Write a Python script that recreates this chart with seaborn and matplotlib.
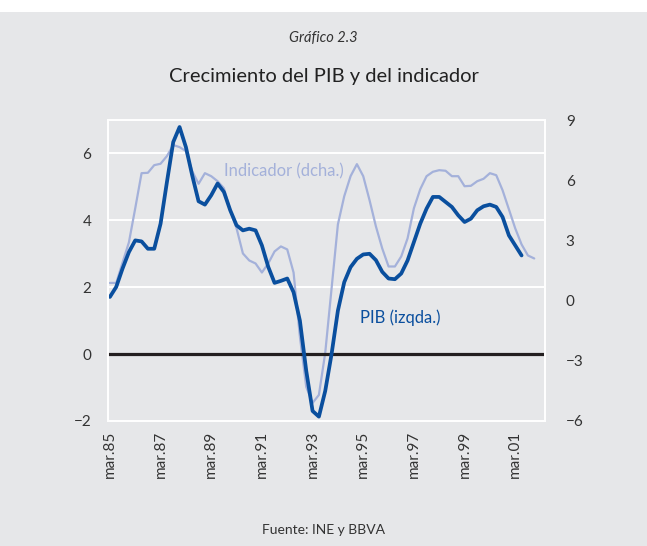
import matplotlib
matplotlib.use('Agg')
import matplotlib.pyplot as plt
import seaborn as sns
import pandas as pd
from matplotlib.patches import Rectangle

# Crecimiento del PIB (izqda.) y del indicador (dcha.), datos trimestrales desde mar.85
pib = [1.71, 2.01, 2.56, 3.05, 3.40, 3.37, 3.15, 3.15, 3.90, 5.14,
       6.34, 6.79, 6.19, 5.34, 4.57, 4.47, 4.75, 5.10, 4.85, 4.30,
       3.85, 3.70, 3.75, 3.70, 3.25, 2.61, 2.13, 2.19, 2.26, 1.85,
       1.00, -0.50, -1.70, -1.87, -1.10, 0.00, 1.30, 2.15, 2.60, 2.85,
       2.98, 3.00, 2.81, 2.46, 2.26, 2.24, 2.41, 2.80, 3.35, 3.90,
       4.35, 4.70, 4.70, 4.55, 4.40, 4.15, 3.95, 4.05, 4.30, 4.42,
       4.47, 4.40, 4.10, 3.55, 3.25, 2.95]
indicador = [0.88, 0.88, 1.90, 2.90, 4.60, 6.35, 6.37, 6.75, 6.82, 7.20,
             7.75, 7.65, 7.45, 6.45, 5.82, 6.35, 6.20, 5.95, 5.60, 4.50,
             3.60, 2.35, 2.00, 1.85, 1.40, 1.85, 2.45, 2.70, 2.55, 1.40,
             -1.80, -4.30, -5.10, -4.70, -2.60, 0.60, 3.80, 5.20, 6.20, 6.80,
             6.20, 5.00, 3.70, 2.60, 1.70, 1.70, 2.20, 3.10, 4.60, 5.55,
             6.20, 6.42, 6.50, 6.47, 6.20, 6.20, 5.70, 5.72, 5.95, 6.07,
             6.35, 6.25, 5.50, 4.55, 3.60, 2.80, 2.25, 2.10]
tick_labels = ['mar.85', 'mar.87', 'mar.89', 'mar.91', 'mar.93',
               'mar.95', 'mar.97', 'mar.99', 'mar.01']

df_pib = pd.DataFrame({'t': range(len(pib)), 'v': pib})
df_ind = pd.DataFrame({'t': range(len(indicador)), 'v': indicador})

bg = '#e6e7e9'
azul = '#0a4f9e'
azul_claro = '#a4b1da'

sns.set_style('white', {'axes.facecolor': bg, 'figure.facecolor': bg})
plt.rcParams['font.family'] = ['Lato', 'DejaVu Sans']

fig = plt.figure(figsize=(6.47, 5.46), dpi=100)
fig.patches.append(Rectangle((0, 1 - 12 / 546), 1, 12 / 546, transform=fig.transFigure,
                             facecolor='white', edgecolor='none', zorder=0))
ax = fig.add_axes([108 / 647, 1 - 421 / 546, 437 / 647, 301 / 546])
ax2 = ax.twinx()

# eje derecho: indicador
sns.lineplot(data=df_ind, x='t', y='v', ax=ax2, color=azul_claro, linewidth=1.6)
# eje izquierdo: PIB, encima del indicador
ax.set_zorder(ax2.get_zorder() + 1)
ax.patch.set_visible(False)
ax2.patch.set_visible(True)
ax2.patch.set_facecolor(bg)
sns.lineplot(data=df_pib, x='t', y='v', ax=ax, color=azul, linewidth=2.7)
ax.axhline(0, color='#231f20', linewidth=2.3, zorder=1)

ax.set_xlim(-0.3, 68.7)
ax.set_ylim(-2, 7)
ax2.set_ylim(-6, 9)
ax.set_yticks([-2, 0, 2, 4, 6])
ax2.set_yticks([-6, -3, 0, 3, 6, 9])
ax.set_xticks(range(0, 8 * len(tick_labels), 8))
ax.set_xticklabels(tick_labels, rotation=90)
ax.set_xlabel('')
ax.set_ylabel('')
ax2.set_ylabel('')
ax.tick_params(length=0, labelsize=11, colors='#333333', pad=12)
ax2.tick_params(length=0, labelsize=11, colors='#333333', pad=15)
ax.tick_params(axis='x', pad=7)
for a in (ax, ax2):
    for s in a.spines.values():
        s.set_color('white')
        s.set_linewidth(1.4)

# líneas de rejilla (valores 2, 4, 6 del eje izquierdo) en el eje de fondo
for y in [2, 4, 6]:
    ax2.axhline((y + 2) / 9 * 15 - 6, color='white', linewidth=1.4, zorder=0)

ax.text(18.0, 5.45, 'Indicador (dcha.)', color=azul_claro, fontsize=12, va='center')
ax.text(39.5, 1.1, 'PIB (izqda.)', color=azul, fontsize=12, va='center')

fig.text(0.5, 1 - 38 / 546, 'Gráfico 2.3', ha='center', va='center',
         fontsize=10.5, style='italic', color='#333333')
fig.text(0.5, 1 - 77 / 546, 'Crecimiento del PIB y del indicador', ha='center', va='center',
         fontsize=14.5, color='#222222')
fig.text(0.5, 1 - 530 / 546, 'Fuente: INE y BBVA', ha='center', va='center',
         fontsize=10, color='#333333')

fig.savefig('out.png', dpi=100, facecolor=bg)
